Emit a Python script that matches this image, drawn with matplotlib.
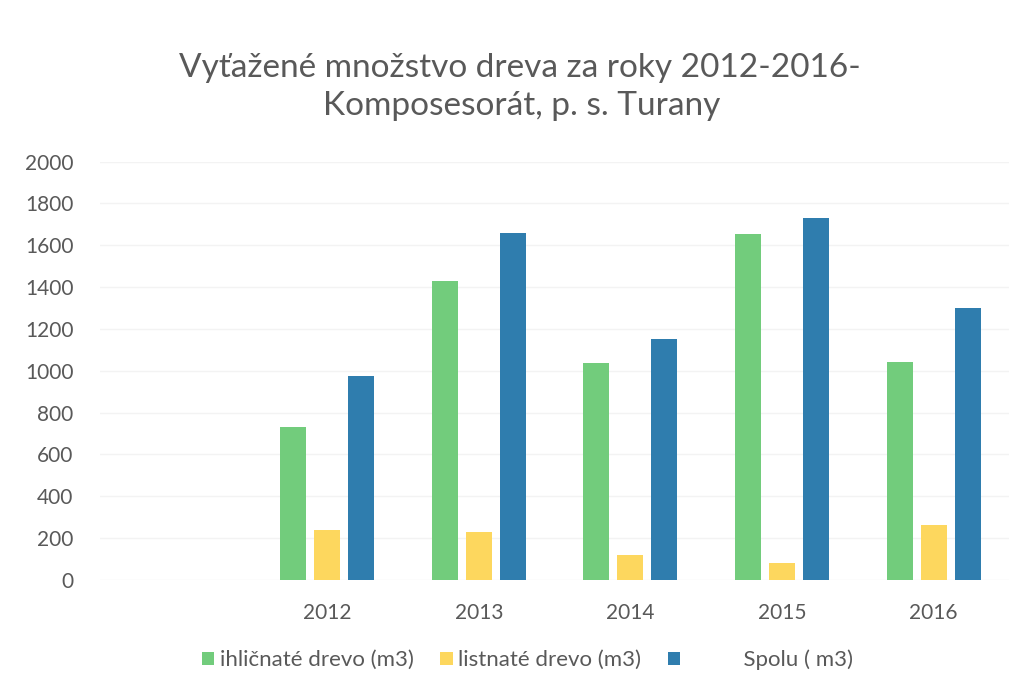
import matplotlib.pyplot as plt
import numpy as np

plt.rcParams['font.family'] = ['Lato', 'DejaVu Sans']

years = ['', '2012', '2013', '2014', '2015', '2016']
ihlicnate = [np.nan, 730, 1430, 1035, 1655, 1040]
listnate = [np.nan, 240, 230, 118, 78, 260]
spolu = [np.nan, 975, 1660, 1153, 1733, 1300]

text_col = '#595959'
x = np.arange(len(years))
w = 0.171
off = 0.224

fig = plt.figure(figsize=(10.28, 6.91), dpi=100)
ax = fig.add_axes([0.097, 0.161, 0.885, 0.605])

ax.bar(x - off, ihlicnate, w, color='#72cc7c', label='ihličnaté drevo (m3)', zorder=3)
ax.bar(x, listnate, w, color='#fdd75e', label='listnaté drevo (m3)', zorder=3)
ax.bar(x + off, spolu, w, color='#2f7dae', label='          Spolu ( m3)', zorder=3)

ax.set_xlim(-0.5, len(years) - 0.5)
ax.set_ylim(0, 2000)
ax.set_yticks(range(0, 2001, 200))
ax.set_xticks(x)
ax.set_xticklabels(years)
ax.grid(axis='y', color='#f3f3f3', linewidth=1, zorder=0)
for s in ax.spines.values():
    s.set_visible(False)
ax.tick_params(length=0, labelsize=15, labelcolor=text_col)
ax.tick_params(axis='y', pad=19)
ax.tick_params(axis='x', pad=17)

# title, two lines
fig.text(0.506, 0.902, 'Vyťažené množstvo dreva za roky 2012-2016-',
         ha='center', va='center', fontsize=24, color=text_col)
fig.text(0.507, 0.847, 'Komposesorát, p. s. Turany',
         ha='center', va='center', fontsize=24, color=text_col)

leg = fig.legend(loc='center', bbox_to_anchor=(0.513, 0.045), ncol=3, frameon=False,
                 fontsize=16, handlelength=0.55, handleheight=0.55, handletextpad=0.25,
                 columnspacing=1.2)
for t in leg.get_texts():
    t.set_color(text_col)

fig.savefig('out.png', dpi=100)
